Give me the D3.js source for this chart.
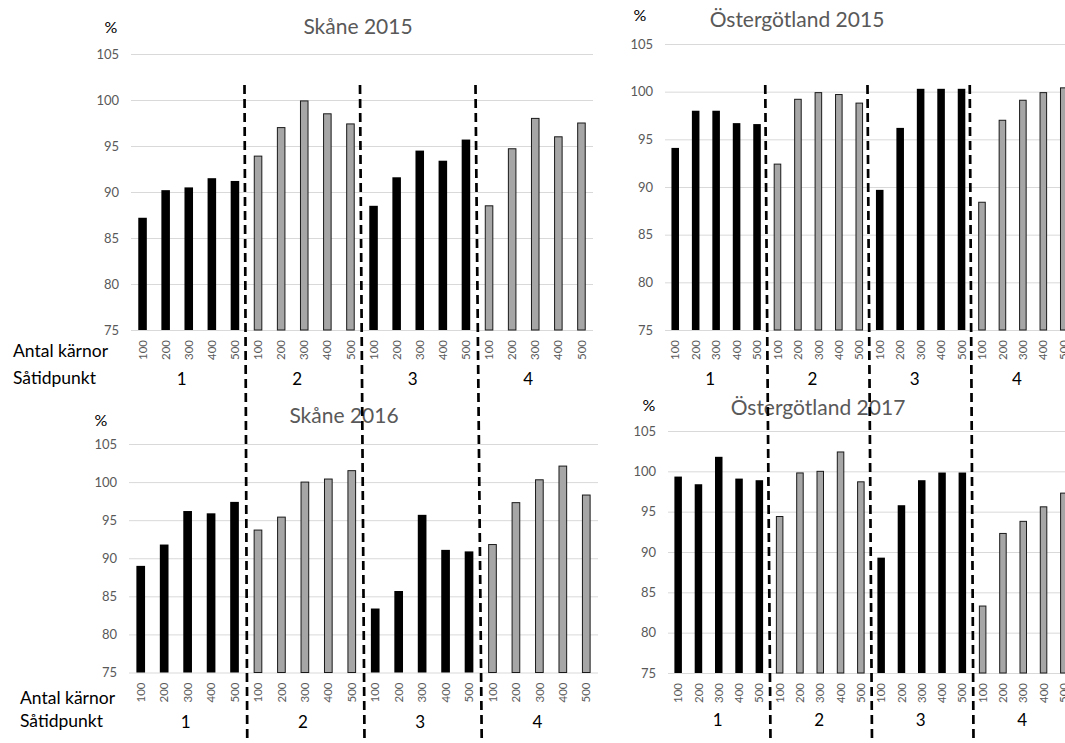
<!DOCTYPE html>
<html>
<head>
<meta charset="utf-8">
<script src="https://cdn.jsdelivr.net/npm/d3@7"></script>
<style>
  html, body { margin: 0; padding: 0; background: #fff; }
  svg { display: block; }
  text { font-family: Lato, "Open Sans", sans-serif; }
</style>
</head>
<body>
<svg id="chart" width="1065" height="743"></svg>
<script>
// Sowing times (outer category) and kernel counts (inner category)
const sowingTimes = ["1", "2", "3", "4"];
const kernelCounts = ["100", "200", "300", "400", "500"];
const yTicks = [75, 80, 85, 90, 95, 100, 105];

// Germination, % — 5 kernel counts per sowing time, sowing times 1–4
const skane2015 = [
  87.2, 90.2, 90.5, 91.5, 91.2,
  93.9, 97.0, 99.9, 98.5, 97.4,
  88.5, 91.6, 94.5, 93.4, 95.7,
  88.5, 94.7, 98.0, 96.0, 97.5
];
const ostergotland2015 = [
  94.1, 98.0, 98.0, 96.7, 96.6,
  92.4, 99.2, 99.9, 99.7, 98.8,
  89.7, 96.2, 100.3, 100.3, 100.3,
  88.4, 97.0, 99.1, 99.9, 100.4
];
const skane2016 = [
  89.0, 91.8, 96.2, 95.9, 97.4,
  93.7, 95.4, 100.0, 100.4, 101.5,
  83.4, 85.7, 95.7, 91.1, 90.9,
  91.8, 97.3, 100.3, 102.1, 98.3
];
const ostergotland2017 = [
  99.35, 98.4, 101.8, 99.1, 98.9,
  94.4, 99.8, 100.0, 102.4, 98.7,
  89.3, 95.8, 98.9, 99.85, 99.85,
  83.3, 92.3, 93.8, 95.6, 97.3
];

// Panel layout
const panels = [
  { title: "Skåne 2015", values: skane2015,
    x0: 131, x1: 593, yTop: 54, yBottom: 330,
    titleX: 358, titleY: 34, pctX: 111, pctY: 33,
    groupY: 385, groupShift: -7, rowLabels: { x: 13, y1: 357, y2: 384 } },
  { title: "Östergötland 2015", values: ostergotland2015,
    x0: 665, x1: 1074, yTop: 44, yBottom: 330,
    titleX: 797, titleY: 27, pctX: 640, pctY: 21,
    groupY: 385, groupShift: -6, rowLabels: null },
  { title: "Skåne 2016", values: skane2016,
    x0: 129, x1: 598, yTop: 444, yBottom: 672.5,
    titleX: 344, titleY: 423, pctX: 101, pctY: 426,
    groupY: 728, groupShift: -2, rowLabels: { x: 20, y1: 704, y2: 727 } },
  { title: "Östergötland 2017", values: ostergotland2017,
    x0: 668, x1: 1074, yTop: 431, yBottom: 673,
    titleX: 818, titleY: 415, pctX: 649, pctY: 411,
    groupY: 726, groupShift: -1, rowLabels: null }
];

const svg = d3.select("#chart");
svg.append("rect").attr("width", 1065).attr("height", 743).attr("fill", "#fff");

const keys = [];
sowingTimes.forEach(s => kernelCounts.forEach(k => keys.push(s + "|" + k)));

const gridColor = "#d9d9d9";
const labelGray = "#595959";

panels.forEach(p => {
  p.x = d3.scaleBand().domain(keys).range([p.x0, p.x1]).paddingInner(0.63).paddingOuter(0.315);
  p.y = d3.scaleLinear().domain([75, 105]).range([p.yBottom, p.yTop]);

  const g = svg.append("g");

  // Horizontal gridlines
  g.append("g")
    .attr("transform", `translate(${p.x0},0)`)
    .call(d3.axisLeft(p.y).tickValues(yTicks).tickSize(-(p.x1 - p.x0)).tickFormat(""))
    .call(a => a.select(".domain").remove())
    .call(a => a.selectAll("line").attr("stroke", gridColor).attr("stroke-width", 1));

  // Y tick labels
  g.append("g")
    .attr("transform", `translate(${p.x0 - 12},0)`)
    .call(d3.axisLeft(p.y).tickValues(yTicks).tickSize(0).tickPadding(0))
    .call(a => a.select(".domain").remove())
    .call(a => a.selectAll("text")
      .attr("fill", labelGray)
      .style("font-family", "Lato, 'Open Sans', sans-serif")
      .style("font-size", "13px"));

  // Bars: sowing times 1 and 3 black, 2 and 4 grey with outline
  g.append("g").selectAll("rect")
    .data(p.values.map((v, i) => ({ key: keys[i], v, grp: Math.floor(i / 5) })))
    .join("rect")
    .attr("x", d => p.x(d.key) + (d.grp % 2 ? 0.5 : 0))
    .attr("width", d => p.x.bandwidth() - (d.grp % 2 ? 1 : 0))
    .attr("y", d => p.y(d.v))
    .attr("height", d => p.y(75) - p.y(d.v))
    .attr("fill", d => d.grp % 2 ? "#a6a6a6" : "#000")
    .attr("stroke", d => d.grp % 2 ? "#1a1a1a" : "none")
    .attr("stroke-width", 1);

  // X tick labels (kernel counts), rotated
  g.append("g")
    .attr("transform", `translate(0,${p.yBottom})`)
    .call(d3.axisBottom(p.x).tickSize(0).tickFormat(k => k.split("|")[1]))
    .call(a => a.select(".domain").remove())
    .call(a => a.selectAll("text")
      .attr("fill", labelGray)
      .style("font-family", "Lato, 'Open Sans', sans-serif")
      .style("font-size", "11.5px")
      .attr("text-anchor", "end")
      .attr("transform", "rotate(-90)")
      .attr("x", -10)
      .attr("y", 0)
      .attr("dy", "0.36em"));

  // Sowing time labels under each group
  g.append("g").selectAll("text")
    .data(sowingTimes)
    .join("text")
    .attr("x", (s, i) => (p.x(s + "|" + kernelCounts[0]) + p.x(s + "|" + kernelCounts[4]) + p.x.bandwidth()) / 2 + p.groupShift)
    .attr("y", p.groupY)
    .attr("text-anchor", "middle")
    .attr("fill", "#000")
    .style("font-size", "17px")
    .text(s => s);

  // Title and unit
  g.append("text")
    .attr("x", p.titleX).attr("y", p.titleY)
    .attr("text-anchor", "middle")
    .attr("fill", labelGray)
    .style("font-size", "21px")
    .text(p.title);
  g.append("text")
    .attr("x", p.pctX).attr("y", p.pctY)
    .attr("text-anchor", "middle")
    .attr("fill", "#000")
    .style("font-size", "16px")
    .text("%");

  if (p.rowLabels) {
    g.append("text").attr("x", p.rowLabels.x).attr("y", p.rowLabels.y1)
      .attr("fill", "#000").style("font-size", "17.5px").text("Antal kärnor");
    g.append("text").attr("x", p.rowLabels.x).attr("y", p.rowLabels.y2)
      .attr("fill", "#000").style("font-size", "17.5px").text("Såtidpunkt");
  }
});

// Dashed separators between sowing times, running through both stacked panels
function boundary(p, i) {
  // left edge of the first band of sowing time i, minus half the inner gap
  const step = p.x.step();
  return p.x(sowingTimes[i] + "|" + kernelCounts[0]) - (step - p.x.bandwidth()) / 2;
}
[[panels[0], panels[2]], [panels[1], panels[3]]].forEach(([top, bottom]) => {
  [1, 2, 3].forEach(i => {
    svg.append("line")
      .attr("x1", boundary(top, i) - 2).attr("y1", 85)
      .attr("x2", boundary(bottom, i) + 1).attr("y2", 743)
      .attr("stroke", "#000")
      .attr("stroke-width", 2.7)
      .attr("stroke-dasharray", "9,5");
  });
});
</script>
</body>
</html>
